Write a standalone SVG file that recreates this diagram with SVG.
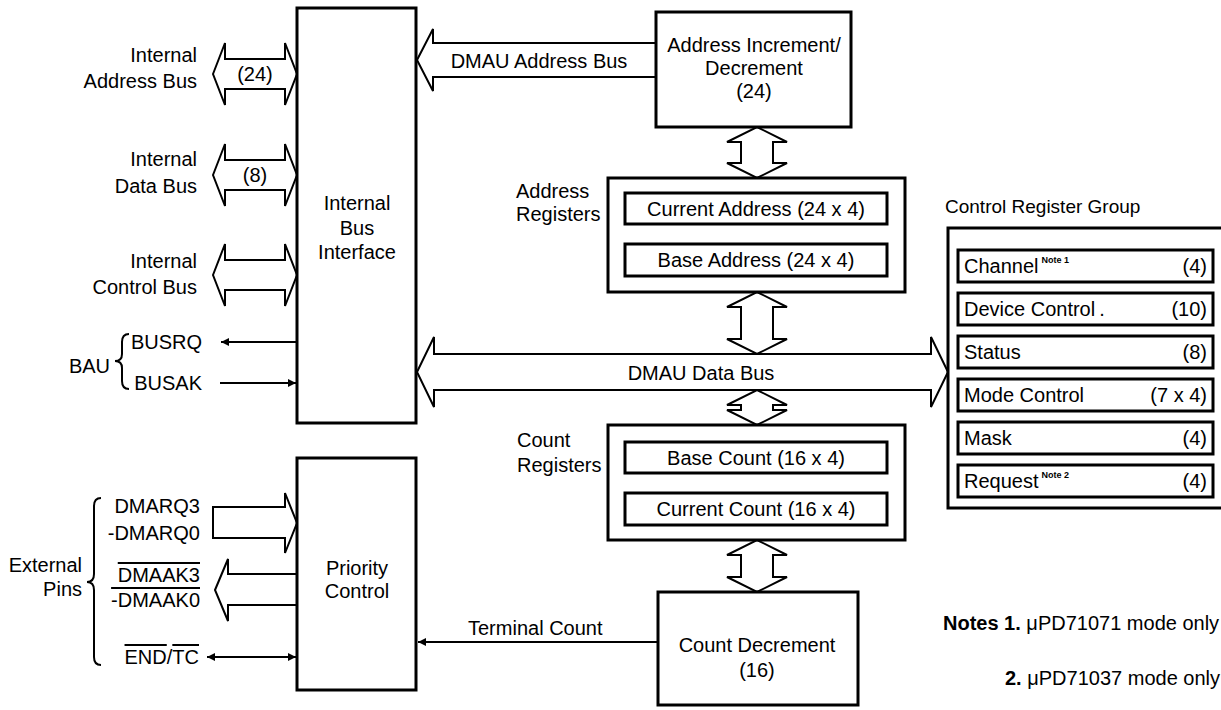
<svg xmlns="http://www.w3.org/2000/svg" width="1221" height="710" viewBox="0 0 1221 710">
<style>
text{font-family:"Liberation Sans",Arial,Helvetica,sans-serif;font-size:20px;fill:#000}
.box{fill:#fff;stroke:#000;stroke-width:3}
.bus{fill:#fff;stroke:#000;stroke-width:2;stroke-linejoin:miter}
.ln{fill:none;stroke:#000;stroke-width:2}
.c{text-anchor:middle}
.e{text-anchor:end}
.b{font-weight:bold}
.sup{font-size:9px;font-weight:bold}
.ov{text-decoration:overline}
</style>
<defs>
<marker id="ah" viewBox="0 0 10 10" refX="10" refY="5" markerWidth="5" markerHeight="4" orient="auto-start-reverse" markerUnits="strokeWidth">
<path d="M0,0 L10,5 L0,10 z" fill="#000"/>
</marker>
</defs>

<g id="connectors">
<polygon class="bus" points="213,74 225,43 225,59 285,59 285,43 297,74 285,105 285,89 225,89 225,105"/>
<polygon class="bus" points="213,175 225,144 225,160 285,160 285,144 297,175 285,206 285,190 225,190 225,206"/>
<polygon class="bus" points="213,275 225,244 225,260 285,260 285,244 297,275 285,306 285,290 225,290 225,306"/>
<polygon class="bus" points="417,60 433,29 433,43 656,43 656,77 433,77 433,91"/>
<polygon class="bus" points="417,372 434,337 434,354 931,354 931,337 948,372 931,407 931,390 434,390 434,407"/>
<polygon class="bus" points="757,127 787,142 773,142 773,163 787,163 757,178 727,163 741,163 741,142 727,142"/>
<polygon class="bus" points="757,292 787,307 773,307 773,339 787,339 757,354 727,339 741,339 741,307 727,307"/>
<polygon class="bus" points="757,390 787,405 773,405 773,410 787,410 757,425 727,410 741,410 741,405 727,405"/>
<polygon class="bus" points="757,540 787,555 773,555 773,577 787,577 757,592 727,577 741,577 741,555 727,555"/>
<polygon class="bus" points="213,507 285,507 285,493 297,523 285,553 285,538 213,538"/>
<polygon class="bus" points="215,590 228,559 228,574 297,574 297,605 228,605 228,621"/>
<line class="ln" x1="297" y1="342" x2="221" y2="342" marker-end="url(#ah)"/>
<line class="ln" x1="220" y1="383" x2="296" y2="383" marker-end="url(#ah)"/>
<line class="ln" x1="207" y1="657" x2="296" y2="657" marker-start="url(#ah)" marker-end="url(#ah)"/>
<line class="ln" x1="658" y1="642" x2="418" y2="642" marker-end="url(#ah)"/>
<path class="ln" d="M129,334 Q122,334 122,342 L122,354 Q122,361 115,361 Q122,361 122,368 L122,381 Q122,389 129,389"/>
<path class="ln" d="M101,498 Q94,498 94,506 L94,574 Q94,582 87,582 Q94,582 94,590 L94,657 Q94,665 101,665"/>
</g>

<g id="bus-labels">
<text class="e" x="197" y="62">Internal</text>
<text class="e" x="197" y="88">Address Bus</text>
<text class="c" x="255" y="81">(24)</text>
<text class="e" x="197" y="166">Internal</text>
<text class="e" x="197" y="193">Data Bus</text>
<text class="c" x="255" y="182">(8)</text>
<text class="e" x="197" y="268">Internal</text>
<text class="e" x="197" y="294">Control Bus</text>
<text class="e" x="110" y="373">BAU</text>
<text class="e" x="202" y="349">BUSRQ</text>
<text class="e" x="202" y="390">BUSAK</text>
<text class="e" x="82" y="572">External</text>
<text class="e" x="82" y="596">Pins</text>
<text class="e" x="200" y="513">DMARQ3</text>
<text class="e" x="200" y="540">-DMARQ0</text>
<text class="e" x="200" y="582"><tspan class="ov">DMAAK3</tspan></text>
<text class="e" x="200" y="607"><tspan class="ov">-DMAAK0</tspan></text>
<text class="e" x="199" y="664"><tspan class="ov">END</tspan>/<tspan class="ov">TC</tspan></text>
<text class="c" x="539" y="68">DMAU Address Bus</text>
<text class="c" x="701" y="380">DMAU Data Bus</text>
<text x="468" y="635">Terminal Count</text>
</g>

<g id="internal-bus-interface">
<rect class="box" x="297" y="8" width="119" height="415"/>
<text class="c" x="357" y="210">Internal</text>
<text class="c" x="357" y="235">Bus</text>
<text class="c" x="357" y="259">Interface</text>
</g>

<g id="priority-control">
<rect class="box" x="297" y="458" width="119" height="232"/>
<text class="c" x="357" y="575">Priority</text>
<text class="c" x="357" y="598">Control</text>
</g>

<g id="address-inc-dec">
<rect class="box" x="656" y="12" width="195" height="115"/>
<text class="c" x="754" y="52">Address Increment/</text>
<text class="c" x="754" y="75">Decrement</text>
<text class="c" x="754" y="98">(24)</text>
</g>

<g id="address-registers">
<text x="516" y="198">Address</text>
<text x="516" y="221">Registers</text>
<rect class="box" x="608" y="178" width="297" height="114"/>
<rect class="box" x="625" y="193" width="262" height="31"/>
<text class="c" x="756" y="216">Current Address (24 x 4)</text>
<rect class="box" x="625" y="244" width="262" height="32"/>
<text class="c" x="756" y="267">Base Address (24 x 4)</text>
</g>

<g id="count-registers">
<text x="517" y="447">Count</text>
<text x="517" y="472">Registers</text>
<rect class="box" x="608" y="425" width="297" height="115"/>
<rect class="box" x="625" y="442" width="262" height="31"/>
<text class="c" x="756" y="465">Base Count (16 x 4)</text>
<rect class="box" x="625" y="493" width="262" height="32"/>
<text class="c" x="756" y="516">Current Count (16 x 4)</text>
</g>

<g id="count-decrement">
<rect class="box" x="658" y="592" width="200" height="113"/>
<text class="c" x="757" y="652">Count Decrement</text>
<text class="c" x="757" y="677">(16)</text>
</g>

<g id="control-register-group">
<text x="945" y="213" style="font-size:19px">Control Register Group</text>
<rect class="box" x="948" y="228" width="290" height="280"/>
<rect class="box" x="958" y="250" width="255" height="32"/>
<text x="964" y="273">Channel<tspan class="sup" dx="3" dy="-10">Note 1</tspan></text>
<text class="e" x="1207" y="273">(4)</text>
<rect class="box" x="958" y="293" width="255" height="32"/>
<text x="964" y="316">Device Control<tspan dx="4">.</tspan></text>
<text class="e" x="1207" y="316">(10)</text>
<rect class="box" x="958" y="336" width="255" height="32"/>
<text x="964" y="359">Status</text>
<text class="e" x="1207" y="359">(8)</text>
<rect class="box" x="958" y="379" width="255" height="32"/>
<text x="964" y="402">Mode Control</text>
<text class="e" x="1207" y="402">(7 x 4)</text>
<rect class="box" x="958" y="422" width="255" height="32"/>
<text x="964" y="445">Mask</text>
<text class="e" x="1207" y="445">(4)</text>
<rect class="box" x="958" y="465" width="255" height="32"/>
<text x="964" y="488">Request<tspan class="sup" dx="3" dy="-10">Note 2</tspan></text>
<text class="e" x="1207" y="488">(4)</text>
</g>

<g id="notes">
<text x="943" y="630"><tspan class="b">Notes 1.</tspan> μPD71071 mode only</text>
<text x="1005" y="685"><tspan class="b">2.</tspan> μPD71037 mode only</text>
</g>
</svg>
